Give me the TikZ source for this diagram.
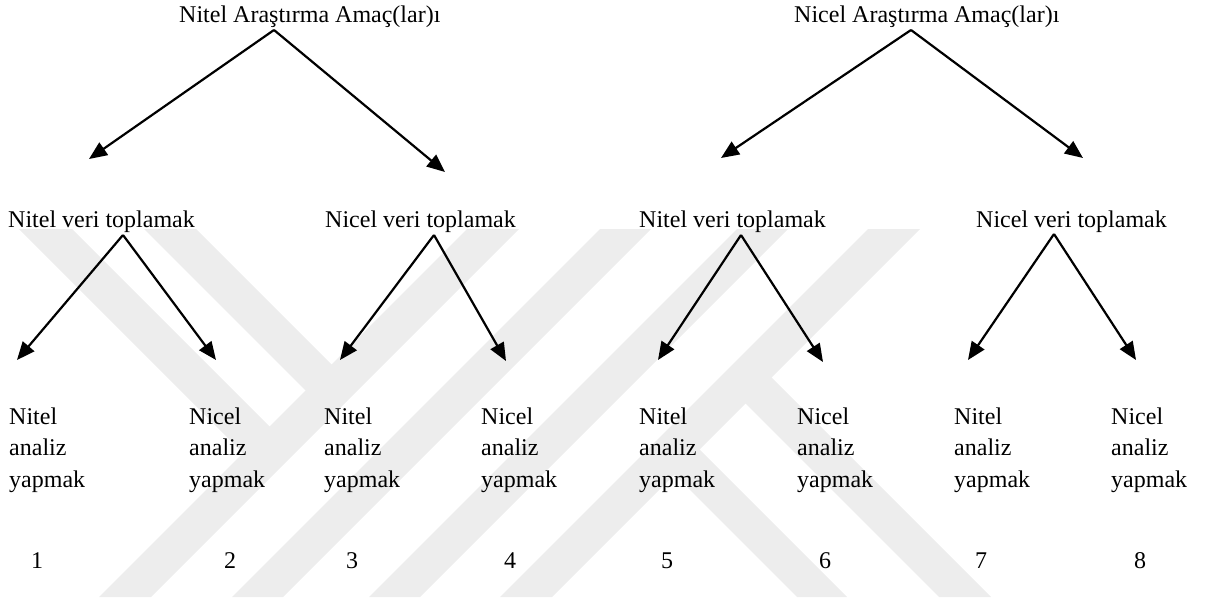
\documentclass[tikz,border=0pt]{standalone}
\usepackage{fontspec}
\setmainfont{Liberation Serif}
\usetikzlibrary{arrows.meta}
\definecolor{emblem}{RGB}{237,237,237}
% three words set one under another, baseline of the box on the first word
\newcommand\colstack[3]{\vtop{\baselineskip=31.5pt\hbox{#1}\hbox{#2}\hbox{#3}}}

\begin{document}
\begin{tikzpicture}[x=1pt,y=-1pt,
  lbl/.style={inner sep=0pt, anchor=base west, font=\fontsize{24}{28}\selectfont},
  num/.style={inner sep=0pt, anchor=base, font=\fontsize{24}{28}\selectfont},
  arr/.style={line width=2.2pt, -{Triangle[length=18pt,width=15pt]}}]
\useasboundingbox (0,0) rectangle (1205,599);

% faint emblem in the background
\begin{scope}
  \clip (0,229) rectangle (1205,597);
  % rising bands
  \foreach \a/\b in {696/748, 829/880, 966/1017, 1097/1149}
    \fill[emblem] (\a-229,229) -- (\b-229,229) -- (\b-597,597) -- (\a-597,597) -- cycle;
  % falling bands ending on the first rising band (x-y = const, end on x+y = 722)
  \foreach \p/\q in {-210/-157, -85/-33}
    \fill[emblem] (\p+229,229) -- (\q+229,229) -- ({(722+\q)/2},{(722-\q)/2}) -- ({(722+\p)/2},{(722-\p)/2}) -- cycle;
  % falling bands leaving the last rising band (start on x+y = 1123)
  \foreach \p/\q in {200/250, 342/394}
    \fill[emblem] ({(1123+\p)/2},{(1123-\p)/2}) -- ({(1123+\q)/2},{(1123-\q)/2}) -- (\q+597,597) -- (\p+597,597) -- cycle;
\end{scope}

% aims
\node[lbl] (t1) at (179,23) {Nitel Araştırma Amaç(lar)ı};
\node[lbl] (t2) at (794,23) {Nicel Araştırma Amaç(lar)ı};

% data collection
\node[lbl] (v1) at (8,227)   {Nitel veri toplamak};
\node[lbl] (v2) at (325,227) {Nicel veri toplamak};
\node[lbl] (v3) at (639,227) {Nitel veri toplamak};
\node[lbl] (v4) at (976,227) {Nicel veri toplamak};

% analysis
\node[lbl] (c1) at (9,424)    {\colstack{Nitel}{analiz}{yapmak}};
\node[lbl] (c2) at (189,424)  {\colstack{Nicel}{analiz}{yapmak}};
\node[lbl] (c3) at (324,424)  {\colstack{Nitel}{analiz}{yapmak}};
\node[lbl] (c4) at (481,424)  {\colstack{Nicel}{analiz}{yapmak}};
\node[lbl] (c5) at (639,424)  {\colstack{Nitel}{analiz}{yapmak}};
\node[lbl] (c6) at (797,424)  {\colstack{Nicel}{analiz}{yapmak}};
\node[lbl] (c7) at (954,424)  {\colstack{Nitel}{analiz}{yapmak}};
\node[lbl] (c8) at (1111,424) {\colstack{Nicel}{analiz}{yapmak}};

% path numbers
\node[num] (n1) at (37,568)   {1};
\node[num] (n2) at (230,568)  {2};
\node[num] (n3) at (352,568)  {3};
\node[num] (n4) at (510,568)  {4};
\node[num] (n5) at (667,568)  {5};
\node[num] (n6) at (825,568)  {6};
\node[num] (n7) at (981,568)  {7};
\node[num] (n8) at (1140,568) {8};

% arrow starts and tips
\coordinate (t1o) at (274,30);  \coordinate (t1l) at (89,159);   \coordinate (t1r) at (445,172);
\coordinate (t2o) at (911,30);  \coordinate (t2l) at (721,158);  \coordinate (t2r) at (1083,158);
\coordinate (v1o) at (123,235); \coordinate (v1l) at (17,360);   \coordinate (v1r) at (216,360);
\coordinate (v2o) at (434,235); \coordinate (v2l) at (340,360);  \coordinate (v2r) at (506,361);
\coordinate (v3o) at (741,235); \coordinate (v3l) at (658,360);  \coordinate (v3r) at (823,362);
\coordinate (v4o) at (1054,234);\coordinate (v4l) at (968,360);  \coordinate (v4r) at (1136,360);

\foreach \s in {t1,t2,v1,v2,v3,v4} {
  \draw[arr] (\s o) -- (\s l);
  \draw[arr] (\s o) -- (\s r);
}
\end{tikzpicture}
\end{document}
